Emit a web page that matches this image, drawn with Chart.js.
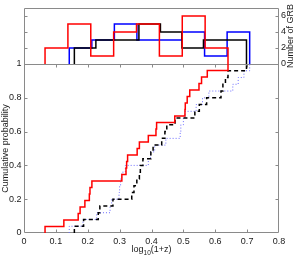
<!DOCTYPE html>
<html><head><meta charset="utf-8">
<script src="https://cdn.jsdelivr.net/npm/chart.js@4"></script>
<style>html,body{margin:0;padding:0;background:#fff;overflow:hidden}canvas{display:block}</style>
</head><body>
<canvas id="c" width="299" height="258"></canvas>
<script>
// ---- data ----
const xTicks = [0, 0.1, 0.2, 0.3, 0.4, 0.5, 0.6, 0.7, 0.8];
const cdfTicks = [0, 0.2, 0.4, 0.6, 0.8, 1];
const histTicks = [0, 2, 4, 6];

// log10(1+z) values of each sample (read from the CDF steps)
const redZ = [0.066, 0.125, 0.170, 0.176, 0.191, 0.205, 0.207, 0.213, 0.307, 0.320, 0.322, 0.325, 0.355, 0.362, 0.390, 0.414, 0.416, 0.473, 0.505, 0.506, 0.512, 0.520, 0.549, 0.557, 0.575, 0.640];
const blackZ = [0.158, 0.187, 0.233, 0.238, 0.279, 0.338, 0.345, 0.354, 0.362, 0.365, 0.373, 0.398, 0.405, 0.432, 0.442, 0.448, 0.474, 0.536, 0.550, 0.573, 0.618, 0.624, 0.632, 0.640, 0.698];
const blueZ = [0.142, 0.185, 0.228, 0.270, 0.275, 0.298, 0.300, 0.303, 0.307, 0.318, 0.390, 0.397, 0.410, 0.445, 0.490, 0.492, 0.500, 0.505, 0.540, 0.560, 0.580, 0.655, 0.672, 0.690, 0.708];

// histogram counts (8 bins spanning each sample's range)
const redHist = [2, 5, 1, 4, 5, 1, 6, 2];
const blackHist = [2, 3, 3, 5, 4, 2, 3, 3];
const blueHist = [2, 3, 5, 3, 3, 4, 1, 4];

// ---- helpers ----
function cdfPoints(z) {
  const s = [...z].sort((a, b) => a - b), n = s.length;
  const pts = [{x: s[0], y: 0}];
  s.forEach((v, i) => pts.push({x: v, y: (i + 1) / n}));
  return pts;
}
function histPoints(z, counts) {
  const lo = Math.min(...z), hi = Math.max(...z), w = (hi - lo) / counts.length;
  const pts = [{x: lo, y: 0}];
  counts.forEach((c, i) => pts.push({x: lo + i * w, y: c}));
  pts.push({x: hi, y: 0});
  return pts;
}
const fmt = v => String(Math.round(v * 10) / 10);
const FAM = "'Liberation Sans', Arial, Helvetica, sans-serif";
const FONT = {family: FAM, size: 9};
const TXT = '#1a1a1a';
const AXC = '#8a8a8a';

// layout: plot area 24..279 x 8..233 ; separator (cdf=1) at y=64
const AREA_TOP = 8, AREA_BOTTOM = 233, SEP = 64;
const cdfMax = (AREA_BOTTOM - AREA_TOP) / (AREA_BOTTOM - SEP);
const histMax = 7;
const histMin = -histMax * (AREA_BOTTOM - SEP) / (SEP - AREA_TOP);

const framePlugin = {
  id: 'frame',
  beforeDatasetsDraw(chart) {
    const {ctx, chartArea: a, scales} = chart;
    const L = a.left + 0.5, R = a.right - 0.5, T = a.top + 0.5, B = a.bottom - 0.5;
    const sep = Math.round(scales.y.getPixelForValue(1)) + 0.5;
    ctx.save();
    ctx.strokeStyle = AXC; ctx.lineWidth = 1;
    ctx.beginPath();
    ctx.rect(L, T, R - L, B - T);
    ctx.moveTo(L, sep); ctx.lineTo(R, sep);
    const tl = 3;
    xTicks.slice(1, -1).forEach(v => {
      const x = Math.round(scales.x.getPixelForValue(v)) + 0.5;
      ctx.moveTo(x, B); ctx.lineTo(x, B - tl);
      ctx.moveTo(x, sep); ctx.lineTo(x, sep + tl);
    });
    cdfTicks.slice(1, -1).forEach(v => {
      const y = Math.round(scales.y.getPixelForValue(v)) + 0.5;
      ctx.moveTo(L, y); ctx.lineTo(L + tl, y);
      ctx.moveTo(R, y); ctx.lineTo(R - tl, y);
    });
    histTicks.slice(1).forEach(v => {
      const y = Math.round(scales.y2.getPixelForValue(v)) + 0.5;
      ctx.moveTo(L, y); ctx.lineTo(L + tl, y);
      ctx.moveTo(R, y); ctx.lineTo(R - tl, y);
    });
    ctx.stroke();
    ctx.restore();
  },
  afterDraw(chart) {
    const {ctx, chartArea: a, scales} = chart;
    ctx.save();
    ctx.fillStyle = TXT;
    ctx.font = `9px ${FAM}`;
    ctx.textAlign = 'center'; ctx.textBaseline = 'middle';
    const yc = (scales.y.getPixelForValue(0) + scales.y.getPixelForValue(1)) / 2;
    ctx.save(); ctx.translate(5.5, yc); ctx.rotate(-Math.PI / 2); ctx.fillText('Cumulative probability', 0, 0); ctx.restore();
    const yh = (scales.y2.getPixelForValue(0) + scales.y2.getPixelForValue(histMax)) / 2;
    ctx.save(); ctx.translate(291, yh); ctx.rotate(-Math.PI / 2); ctx.fillText('Number of GRB', 0, 0); ctx.restore();
    const p1 = 'log', p2 = '10', p3 = '(1+z)';
    ctx.textAlign = 'left'; ctx.textBaseline = 'alphabetic';
    const big = `9px ${FAM}`, small = `6.5px ${FAM}`;
    ctx.font = big; const w1 = ctx.measureText(p1).width, w3 = ctx.measureText(p3).width;
    ctx.font = small; const w2 = ctx.measureText(p2).width;
    const xc = (a.left + a.right) / 2;
    let x = xc - (w1 + w2 + w3) / 2;
    const base = 252;
    ctx.font = big; ctx.fillText(p1, x, base); x += w1;
    ctx.font = small; ctx.fillText(p2, x, base + 3); x += w2;
    ctx.font = big; ctx.fillText(p3, x, base);
    ctx.restore();
  }
};

const lineDs = (label, data, color, axis, extra) => Object.assign({
  label, data, borderColor: color, backgroundColor: color, yAxisID: axis,
  borderWidth: 1.5, pointRadius: 0, stepped: 'before', fill: false, tension: 0
}, extra || {});

new Chart(document.getElementById('c'), {
  type: 'line',
  data: {
    datasets: [
      lineDs('CDF red', cdfPoints(redZ), '#ff0000', 'y'),
      lineDs('CDF black', cdfPoints(blackZ), '#000000', 'y', {borderDash: [4, 3]}),
      lineDs('CDF blue', cdfPoints(blueZ), '#6b6bff', 'y', {borderWidth: 1, borderDash: [1, 2]}),
      lineDs('Hist red', histPoints(redZ, redHist), '#ff0000', 'y2'),
      lineDs('Hist black', histPoints(blackZ, blackHist), '#000000', 'y2'),
      lineDs('Hist blue', histPoints(blueZ, blueHist), '#0000ff', 'y2')
    ]
  },
  options: {
    responsive: false, animation: false, devicePixelRatio: 1,
    layout: {padding: {top: AREA_TOP, left: 0, right: 0, bottom: 0}},
    plugins: {legend: {display: false}, tooltip: {enabled: false}},
    scales: {
      x: {
        type: 'linear', min: 0, max: 0.8,
        afterBuildTicks: s => { s.ticks = xTicks.map(v => ({value: v})); },
        afterFit: s => { s.height = 258 - AREA_BOTTOM; },
        ticks: {padding: 3, font: FONT, color: TXT, maxRotation: 0, autoSkip: false, callback: fmt},
        grid: {display: false, drawTicks: false}, border: {display: false}
      },
      y: {
        position: 'left', min: 0, max: cdfMax,
        afterBuildTicks: s => { s.ticks = cdfTicks.map(v => ({value: v})); },
        afterFit: s => { s.width = 24; },
        ticks: {padding: 2.5, font: FONT, color: TXT, autoSkip: false, callback: fmt},
        grid: {display: false, drawTicks: false}, border: {display: false}
      },
      y2: {
        position: 'right', min: histMin, max: histMax,
        afterBuildTicks: s => { s.ticks = histTicks.map(v => ({value: v})); },
        afterFit: s => { s.width = 20; },
        ticks: {padding: 2, font: FONT, color: TXT, autoSkip: false, callback: v => String(v)},
        grid: {display: false, drawTicks: false}, border: {display: false}
      }
    }
  },
  plugins: [framePlugin]
});
</script>
</body></html>
